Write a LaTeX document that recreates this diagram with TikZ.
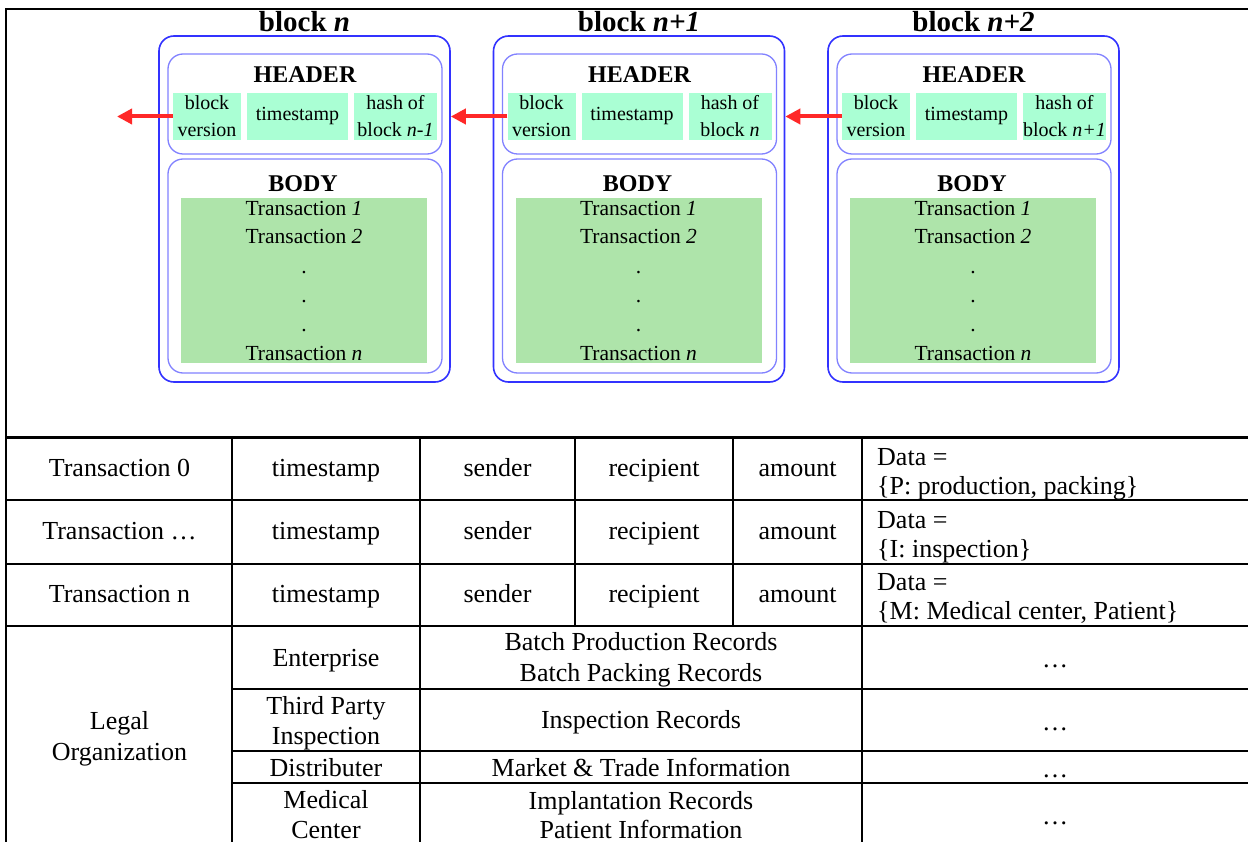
\documentclass[tikz,border=0pt]{standalone}
\usepackage{fontspec}
\setmainfont{Liberation Serif}
\usetikzlibrary{arrows.meta}
\definecolor{outerblue}{RGB}{50,50,255}
\definecolor{innerblue}{RGB}{130,130,255}
\definecolor{cellmint}{RGB}{170,255,212}
\definecolor{bodygreen}{RGB}{174,228,170}
\definecolor{arrowred}{RGB}{255,40,40}
\begin{document}
\begin{tikzpicture}[x=1pt,y=-1pt,
  outerbox/.style={draw=outerblue, line width=1.6pt, rounded corners=15pt, inner sep=0pt},
  innerbox/.style={draw=innerblue, line width=1.3pt, rounded corners=15pt, inner sep=0pt},
  hcell/.style={fill=cellmint, inner sep=0pt, minimum height=47pt, align=center, font=\fontsize{20}{27}\selectfont},
  bodyfill/.style={fill=bodygreen, inner sep=0pt},
  titletext/.style={anchor=base, inner sep=0pt, font=\fontsize{29}{34}\selectfont\bfseries},
  secttext/.style={anchor=base, inner sep=0pt, font=\fontsize{24}{28}\selectfont\bfseries},
  bodytext/.style={anchor=base, inner sep=0pt, font=\fontsize{21.5}{26}\selectfont},
  tabtext/.style={anchor=base, inner sep=0pt, font=\fontsize{26}{30}\selectfont},
  datatext/.style={anchor=base west, inner sep=0pt, font=\fontsize{26}{30}\selectfont},
  redarrow/.style={draw=arrowred, line width=4pt, -{Triangle[length=15pt,width=15pt]}},
  gridline/.style={line width=2.6pt, line cap=rect}
]
\useasboundingbox (0,0) rectangle (1248,842);
\clip (0,0) rectangle (1248,842);
\fill[white] (0,0) rectangle (1248,842);

% ---------- blocks ----------
\foreach \i/\blk/\hsh in {0/n/n-1,1/n+1/n,2/n+2/n+1}{
  \pgfmathsetmacro{\o}{\i*334.5}
  \node[outerbox, minimum width=291pt, minimum height=346pt] (b\i) at (304.5+\o,209) {};
  \node[titletext] (title\i) at (304.5+\o,32) {block \textit{\blk}};
  \node[innerbox, minimum width=274pt, minimum height=100pt] (hd\i) at (305+\o,104) {};
  \node[secttext] (hdl\i) at (305+\o,83) {HEADER};
  \node[hcell, minimum width=68pt] (bv\i) at (207+\o,116.5) {block\\version};
  \node[hcell, minimum width=101pt] (ts\i) at (297.5+\o,116.5) {timestamp};
  \node[hcell, minimum width=83pt] (hs\i) at (395.5+\o,116.5) {hash of\\block \textit{\hsh}};
  \node[innerbox, minimum width=274pt, minimum height=214pt] (bd\i) at (305+\o,266) {};
  \node[secttext] (bdl\i) at (303+\o,192) {BODY};
  \node[bodyfill, minimum width=246pt, minimum height=165pt] (bf\i) at (304+\o,280.5) {};
  \node[bodytext] (tra\i) at (304+\o,215.5) {Transaction \textit{1}};
  \node[bodytext] (trb\i) at (304+\o,244) {Transaction \textit{2}};
  \node[bodytext] (dta\i) at (304+\o,273.5) {.};
  \node[bodytext] (dtb\i) at (304+\o,302.5) {.};
  \node[bodytext] (dtc\i) at (304+\o,331.5) {.};
  \node[bodytext] (trn\i) at (304+\o,360) {Transaction \textit{n}};
}
\coordinate (free) at (117,116.5);
\draw[redarrow] (bv0.west) -- (free);
\draw[redarrow] (bv1.west) -- (bv1.west -| b0.east);
\draw[redarrow] (bv2.west) -- (bv2.west -| b1.east);

% ---------- frame and table ----------
\draw[gridline] (1250,9) -- (6,9) -- (6,845);
\foreach \y in {437.5,500,564,626} \draw[gridline] (6,\y) -- (1250,\y);
\foreach \y in {689,751,783} \draw[gridline] (232,\y) -- (1250,\y);
\foreach \x in {232,420,862} \draw[gridline] (\x,437.5) -- (\x,845);
\foreach \x in {575,733} \draw[gridline] (\x,437.5) -- (\x,626);

% rows of transactions
\foreach \r/\lab/\b in {1/0/476,2/…/539,3/n/602}{
  \node[tabtext] (tx\r) at (119.5,\b) {Transaction \lab};
  \node[tabtext] (tt\r) at (326,\b) {timestamp};
  \node[tabtext] (sd\r) at (497.5,\b) {sender};
  \node[tabtext] (rc\r) at (654,\b) {recipient};
  \node[tabtext] (am\r) at (797.5,\b) {amount};
}
\node[datatext] (da1) at (877,465) {Data =};
\node[datatext] (db1) at (877,494) {\{P: production, packing\}};
\node[datatext] (da2) at (877,528) {Data =};
\node[datatext] (db2) at (877,557) {\{I: inspection\}};
\node[datatext] (da3) at (877,590) {Data =};
\node[datatext] (db3) at (877,619) {\{M: Medical center, Patient\}};

% organization rows
\node[tabtext] (lg1) at (119.5,729) {Legal};
\node[tabtext] (lg2) at (119.5,760) {Organization};
\node[tabtext] (en) at (326,666) {Enterprise};
\node[tabtext] (tp1) at (326,714) {Third Party};
\node[tabtext] (tp2) at (326,744) {Inspection};
\node[tabtext] (ds) at (326,776) {Distributer};
\node[tabtext] (mc1) at (326,808) {Medical};
\node[tabtext] (mc2) at (326,838) {Center};
\node[tabtext] (rb1) at (641,650) {Batch Production Records};
\node[tabtext] (rb2) at (641,681) {Batch Packing Records};
\node[tabtext] (ri) at (641,728) {Inspection Records};
\node[tabtext] (rm) at (641,776) {Market \& Trade Information};
\node[tabtext] (rp1) at (641,809) {Implantation Records};
\node[tabtext] (rp2) at (641,838) {Patient Information};
\node[tabtext] (el1) at (1055,667) {…};
\node[tabtext] (el2) at (1055,730) {…};
\node[tabtext] (el3) at (1055,777) {…};
\node[tabtext] (el4) at (1055,824) {…};
\end{tikzpicture}
\end{document}
